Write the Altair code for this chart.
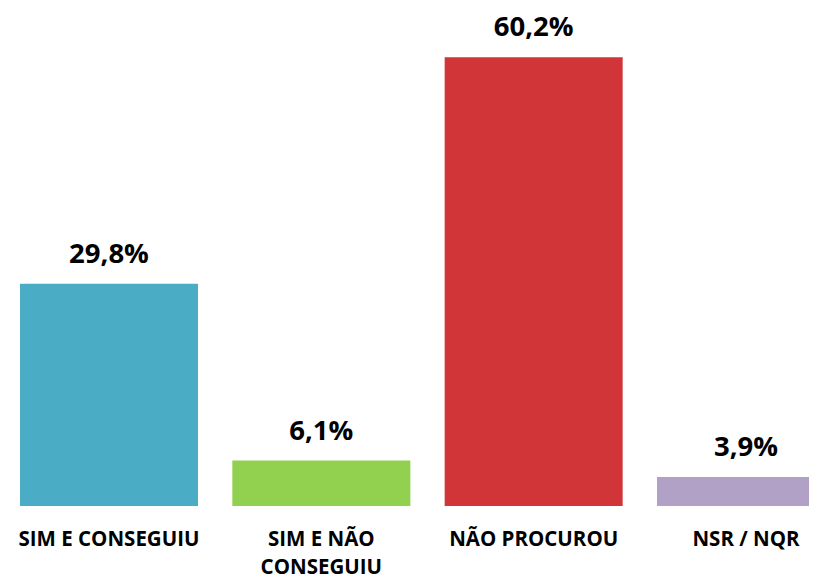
import altair as alt
import pandas as pd

categories = ["SIM E CONSEGUIU", "SIM E NÃO|CONSEGUIU", "NÃO PROCUROU", "NSR / NQR"]
values = [29.8, 6.1, 60.2, 3.9]
colors = ["#4BACC6", "#92D050", "#D13537", "#B2A1C7"]

df = pd.DataFrame({
    "cat": categories,
    "val": values,
    "lbl": [f"{v:.1f}".replace(".", ",") + "%" for v in values],
    "color": colors,
})

x = alt.X(
    "cat:N",
    sort=None,
    title=None,
    scale=alt.Scale(range=[0, 839], paddingInner=0.1617, paddingOuter=0.0565),
    axis=alt.Axis(
        labelAngle=0,
        labelFont="Open Sans",
        labelFontSize=20.5,
        labelFontWeight="bold",
        labelColor="#000000",
        labelPadding=23,
        labelBaseline="top",
        labelLineHeight=28,
        labelLimit=400,
        labelExpr="split(datum.label, '|')",
        ticks=False,
        domain=False,
        grid=False,
    ),
)
y = alt.Y("val:Q", scale=alt.Scale(domain=[0, 66.8], nice=False, zero=True), axis=None)

bars = alt.Chart(df).mark_bar(clip=True).encode(
    x=x, y=y, color=alt.Color("color:N", scale=None)
)
text = alt.Chart(df).mark_text(
    font="Open Sans", fontSize=27.5, fontWeight="bold", color="#000000",
    baseline="alphabetic", dy=-21,
).encode(x=x, y=y, text="lbl:N")

chart = (bars + text).properties(
    width=801,
    height=498,
    autosize=alt.AutoSizeParams(type="none"),
    padding={"left": 0, "top": 0, "right": 0, "bottom": 72},
).configure(background="#ffffff").configure_view(strokeWidth=0)

chart.save("out.html", embed_options={"renderer": "svg", "actions": False})
